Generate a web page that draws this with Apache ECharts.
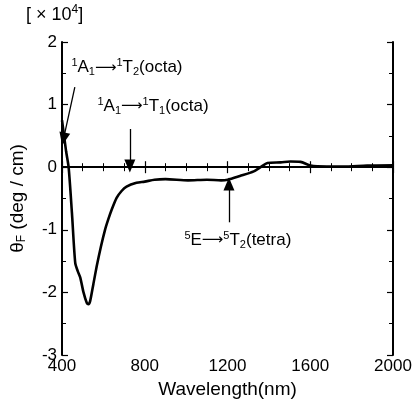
<!DOCTYPE html>
<html><head><meta charset="utf-8">
<script src="https://cdn.jsdelivr.net/npm/echarts@6/dist/echarts.min.js"></script>
<style>html,body{margin:0;padding:0;background:#fff}#c{width:415px;height:404px}</style>
</head><body><div id="c"></div>
<script>
const wavelength = [400,408,420,432,448,464,476,488,504,520,528,536,552,568,588,608,624,640,664,688,712,760,800,847,900,1009,1100,1169,1201,1260,1327,1360,1393,1457,1505,1553,1601,1680,1760,1874,2000];
const theta = [0.75,0.55,0.25,0.0,-0.73,-1.53,-1.66,-1.76,-2.0,-2.17,-2.19,-2.14,-1.86,-1.58,-1.27,-1.0,-0.83,-0.68,-0.49,-0.38,-0.31,-0.25,-0.23,-0.20,-0.19,-0.21,-0.20,-0.21,-0.20,-0.14,-0.067,0.0,0.067,0.077,0.09,0.085,0.025,0.01,0.01,0.025,0.03];
const xTicks = [400,800,1200,1600,2000];
const yTicks = [-3,-2,-1,0,1,2];
// annotations: [x, y] in data units
const labelT2 = [714, 1.59];
const labelT1 = [840, 0.97];
const labelTetra = [1250, -1.17];
const arrowT2 = [[462, 1.28],[407, 0.45]];
const arrowT1 = [[728, 0.61],[728, 0.02]];
const arrowTetra = [[1207, -0.88],[1207, -0.27]];

const FONT = 'Liberation Sans, Arial, sans-serif';
const rich = {
  m:{fontSize:17,fontFamily:FONT,color:'#000'},
  ar:{fontSize:15,fontFamily:'DejaVu Sans',color:'#000'},
  sup:{fontSize:11,fontFamily:FONT,color:'#000',verticalAlign:'top',padding:[0,0,9,0]},
  sub:{fontSize:11,fontFamily:FONT,color:'#000',padding:[9,0,0,0]},
  big:{fontSize:19,fontFamily:FONT,color:'#000'},
  bsub:{fontSize:12,fontFamily:FONT,color:'#000',padding:[9,0,0,0]},
  hm:{fontSize:18,fontFamily:FONT,color:'#000'},
  hsup:{fontSize:12,fontFamily:FONT,color:'#000',padding:[0,0,10,0]}
};
const chart = echarts.init(document.getElementById('c'));
const axisLine = {show:true,lineStyle:{color:'#000',width:2}};
const tick = {inside:true,length:6,lineStyle:{color:'#000',width:1.2}};
const plain = v => String(v);
chart.setOption({
  animation:false,
  grid:{left:60,right:22,top:42,bottom:49},
  xAxis:[{type:'value',min:xTicks[0],max:xTicks[xTicks.length-1],interval:400,position:'bottom',
     axisLine:axisLine,axisTick:tick,
     minorTick:{show:true,splitNumber:4,length:4,lineStyle:{color:'#000',width:1}},
     splitLine:{show:false},
     axisLabel:{fontSize:17,fontFamily:FONT,color:'#000',margin:3,formatter:plain},
     name:'Wavelength(nm)',nameLocation:'middle',nameGap:22,
     nameTextStyle:{fontSize:19,fontFamily:FONT,color:'#000'}},
    {type:'value',min:400,max:2000,interval:400,position:'top',
     axisLine:axisLine,axisTick:tick,
     minorTick:{show:true,splitNumber:4,length:4,lineStyle:{color:'#000',width:1}},
     splitLine:{show:false},axisLabel:{show:false}}],
  yAxis:[{type:'value',min:yTicks[0],max:yTicks[yTicks.length-1],interval:1,position:'left',
     axisLine:axisLine,axisTick:tick,
     minorTick:{show:true,splitNumber:2,length:4,lineStyle:{color:'#000',width:1}},
     splitLine:{show:false},
     axisLabel:{fontSize:17,fontFamily:FONT,color:'#000',margin:5,formatter:plain},
     name:'{big|θ}{bsub|F}{big| (deg / cm)}',nameLocation:'middle',nameGap:34,nameRotate:90,
     nameTextStyle:{rich:rich}},
    {type:'value',min:-3,max:2,interval:1,position:'right',
     axisLine:axisLine,axisTick:tick,
     minorTick:{show:true,splitNumber:2,length:4,lineStyle:{color:'#000',width:1}},
     splitLine:{show:false},axisLabel:{show:false}}],
  graphic:[{type:'text',left:26,top:4,style:{text:'{hm|[ × 10}{hsup|4}{hm|]}',rich:rich}}],
  series:[
    {type:'line',data:wavelength.map((w,i)=>[w,theta[i]]),showSymbol:false,smooth:0.25,
     lineStyle:{color:'#000',width:2.6},z:5,
     markLine:{silent:true,symbol:['none','none'],label:{show:false},
       lineStyle:{color:'#000',width:1.6,type:'solid'},
       data:[{yAxis:0}]}},
    {type:'line',data:[],
     markLine:{silent:true,symbol:['none','triangle'],symbolSize:[11,13],label:{show:false},
       lineStyle:{color:'#000',width:1.3,type:'solid'},
       data:[
         [{coord:arrowT2[0]},{coord:arrowT2[1]}],
         [{coord:arrowT1[0]},{coord:arrowT1[1]}],
         [{coord:arrowTetra[0]},{coord:arrowTetra[1]}]
       ]},
     markPoint:{symbol:'circle',symbolSize:0,silent:true,
       label:{show:true,position:'inside',rich:rich},
       data:[
         {coord:labelT2,label:{formatter:'{sup|1}{m|A}{sub|1}{ar|⟶}{sup|1}{m|T}{sub|2}{m|(octa)}'}},
         {coord:labelT1,label:{formatter:'{sup|1}{m|A}{sub|1}{ar|⟶}{sup|1}{m|T}{sub|1}{m|(octa)}'}},
         {coord:labelTetra,label:{formatter:'{sup|5}{m|E}{ar|⟶}{sup|5}{m|T}{sub|2}{m|(tetra)}'}}
       ]}}
  ]
});
</script></body></html>
